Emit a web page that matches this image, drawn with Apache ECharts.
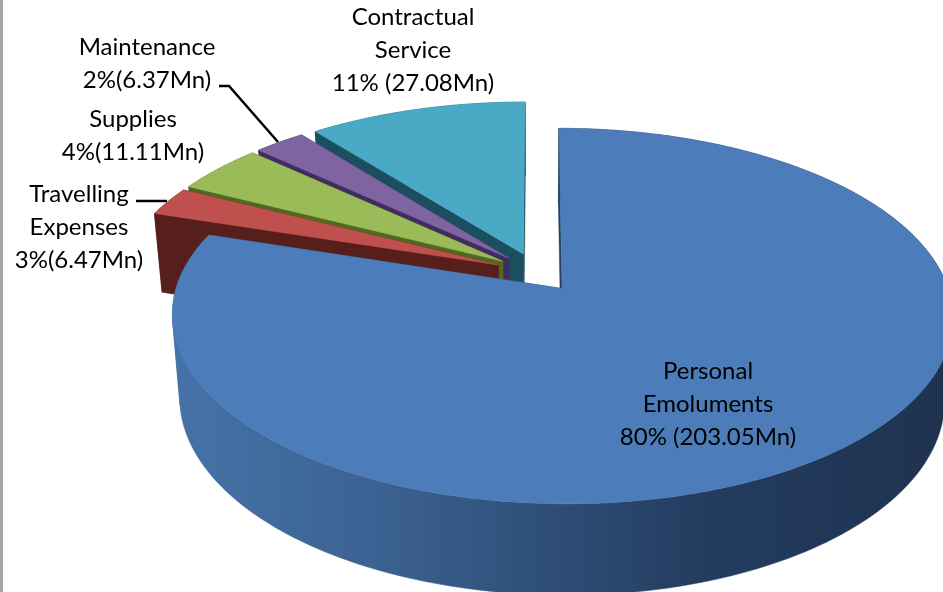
<!DOCTYPE html>
<html>
<head>
<meta charset="utf-8">
<script src="https://cdn.jsdelivr.net/npm/echarts@6/dist/echarts.min.js"></script>
<style>
  html, body { margin: 0; padding: 0; background: #fff; }
  #chart { width: 943px; height: 592px; }
</style>
</head>
<body>
<div id="chart"></div>
<script>
const categories = ['Personal Emoluments', 'Travelling Expenses', 'Supplies', 'Maintenance', 'Contractual Service'];
const values = [203.05, 6.47, 11.11, 6.37, 27.08];
const labels = [
  ['Personal', 'Emoluments', '80% (203.05Mn)'],
  ['Travelling', 'Expenses', '3%(6.47Mn)'],
  ['Supplies', '4%(11.11Mn)'],
  ['Maintenance', '2%(6.37Mn)'],
  ['Contractual', 'Service', '11% (27.08Mn)']
];

// layout and look, per slice
const topColors = ['#4c7dba', '#c0504d', '#9bbb59', '#8064a2', '#4aaac6'];
const wallColors = [null, '#571f1c', '#4f6a1f', '#3f2c60', '#1b4e5e'];
const labelPos = [[708, 371], [79, 194], [133, 119], [147, 47], [413, 17]];
const LINE_H = 33.3;

// simple perspective of the pie disc
const X0 = 537, Y0 = 272.4, F = 381, G = 179, K = 0.145;
const EXPLODE = 0.11;
const BOTTOM_SCALE = 0.98, WALL = 81.3;

const total = values.reduce((a, b) => a + b, 0);
const startAngles = [];
values.reduce((acc, v, i) => { startAngles[i] = acc; return acc + v / total * Math.PI * 2; }, 0);

function project(u, v) {
  const w = 1 + K * v;
  return [X0 + F * u / w, Y0 - G * v / w];
}
function lower(u, v) {
  const p = project(u, v);
  return [X0 + (p[0] - X0) * BOTTOM_SCALE, Y0 + (p[1] - Y0) * BOTTOM_SCALE + WALL / (1 + 0.14 * v)];
}

// sign of a quad's area, it flips where the rim wall folds over at the sides
function quadSign(a, b, c, d) {
  const pts = [a, b, c, d];
  let area = 0;
  pts.forEach((p, n) => {
    const q = pts[(n + 1) % 4];
    area += p[0] * q[1] - q[0] * p[1];
  });
  return area >= 0 ? 1 : -1;
}

function renderSlice(params, api) {
  const i = api.value(0);
  const a0 = startAngles[i];
  const a1 = a0 + api.value(1) / total * Math.PI * 2;
  const mid = (a0 + a1) / 2;
  const cu = EXPLODE * Math.sin(mid), cv = EXPLODE * Math.cos(mid);

  const rim = [];
  const steps = Math.max(8, Math.round((a1 - a0) * 60));
  for (let s = 0; s <= steps; s++) {
    const a = a0 + (a1 - a0) * s / steps;
    rim.push([cu + Math.sin(a), cv + Math.cos(a)]);
  }
  const topRim = rim.map(p => project(p[0], p[1]));
  const lowRim = rim.map(p => lower(p[0], p[1]));
  const apex = project(cu, cv), apexLow = lower(cu, cv);

  const wallFill = i === 0
    ? new echarts.graphic.LinearGradient(170, 0, 943, 0, [
        { offset: 0, color: '#4673a8' },
        { offset: 0.28, color: '#3b6191' },
        { offset: 0.5, color: '#2d4d76' },
        { offset: 0.7, color: '#233c5e' },
        { offset: 1, color: '#1f3250' }
      ], true)
    : wallColors[i];
  const cutFill = i === 0 ? '#24405f' : wallColors[i];

  const poly = (points, fill) => ({
    type: 'polygon',
    shape: { points: points },
    style: { fill: fill, stroke: fill, lineWidth: 0.5 }
  });

  const children = [];
  let from = 0;
  for (let s = 1; s <= steps; s++) {
    const sign = quadSign(topRim[s - 1], topRim[s], lowRim[s], lowRim[s - 1]);
    const next = s < steps ? quadSign(topRim[s], topRim[s + 1], lowRim[s + 1], lowRim[s]) : 0;
    if (next !== sign) {
      children.push(poly(
        topRim.slice(from, s + 1).concat(lowRim.slice(from, s + 1).reverse()),
        wallFill
      ));
      from = s;
    }
  }
  children.push(
    poly([apex, topRim[0], lowRim[0], apexLow], cutFill),
    poly([apex, topRim[steps], lowRim[steps], apexLow], cutFill),
    poly([apex].concat(topRim), topColors[i])
  );
  labels[i].forEach((line, n) => {
    children.push({
      type: 'text',
      style: {
        x: labelPos[i][0],
        y: labelPos[i][1] + n * LINE_H,
        text: line,
        fill: '#000',
        font: '24px Lato',
        align: 'center',
        verticalAlign: 'middle'
      }
    });
  });
  return { type: 'group', children: children };
}

// back slices first, the big front one last
const drawOrder = [4, 3, 2, 1, 0];

const chart = echarts.init(document.getElementById('chart'), null, { renderer: 'canvas' });
chart.setOption({
  animation: false,
  backgroundColor: '#fff',
  graphic: [
    { type: 'rect', shape: { x: 0, y: 0, width: 3, height: 592 }, style: { fill: '#a6a6a6' }, z: 0 },
    { type: 'polyline', shape: { points: [[219, 86], [229, 86], [278, 142]] }, style: { stroke: '#000', lineWidth: 2.5, fill: null }, z: 5 },
    { type: 'line', shape: { x1: 136, y1: 201, x2: 167, y2: 201 }, style: { stroke: '#000', lineWidth: 2.5 }, z: 5 }
  ],
  series: [{
    type: 'custom',
    coordinateSystem: 'none',
    silent: true,
    clip: false,
    renderItem: renderSlice,
    data: drawOrder.map(i => [i, values[i], categories[i]])
  }]
});
</script>
</body>
</html>
